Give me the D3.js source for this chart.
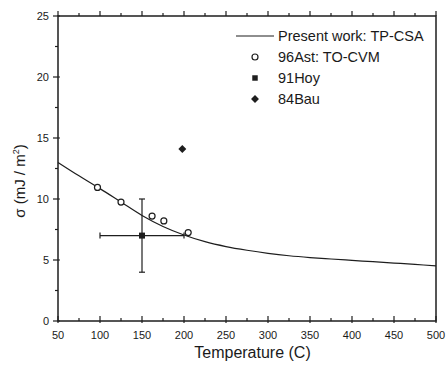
<!DOCTYPE html>
<html>
<head>
<meta charset="utf-8">
<script src="https://cdn.jsdelivr.net/npm/d3@7"></script>
<style>
  body { margin: 0; background: #fff; }
  text { font-family: "Liberation Sans", Arial, sans-serif; fill: #1a1a1a; }
</style>
</head>
<body>
<div id="chart"></div>
<script>
// curve: present work TP-CSA
var curveT = [50, 75, 100, 125, 150, 175, 200, 225, 250, 275, 300, 325, 350, 375, 400, 425, 450, 475, 500];
var curveS = [13.0, 11.9, 10.85, 9.75, 8.65, 7.75, 7.05, 6.5, 6.1, 5.8, 5.55, 5.35, 5.2, 5.08, 4.97, 4.86, 4.75, 4.64, 4.52];

// 96Ast: TO-CVM
var astT = [97, 125, 162, 176, 205];
var astS = [10.95, 9.75, 8.6, 8.2, 7.25];

// 91Hoy with error bars
var hoyT = [150];
var hoyS = [7.0];
var hoyTErr = [50];
var hoySErr = [3.0];

// 84Bau
var bauT = [198];
var bauS = [14.1];

var legendLabels = ["Present work: TP-CSA", "96Ast: TO-CVM", "91Hoy", "84Bau"];
var xTicks = [50, 100, 150, 200, 250, 300, 350, 400, 450, 500];
var yTicks = [0, 5, 10, 15, 20, 25];

var svgWidth = 446, svgHeight = 369;
var margin = {top: 16, right: 10, bottom: 48, left: 58};
var width = 436 - margin.left;
var height = 321 - margin.top;
var ink = "#1e1e1e";

var svg = d3.select("#chart").append("svg")
  .attr("width", svgWidth)
  .attr("height", svgHeight);

var g = svg.append("g")
  .attr("transform", `translate(${margin.left}, ${margin.top})`);

var x = d3.scaleLinear().domain([50, 500]).range([0, width]);
var y = d3.scaleLinear().domain([0, 25]).range([height, 0]);

// frame
g.append("rect")
  .attr("width", width).attr("height", height)
  .attr("fill", "none").attr("stroke", ink).attr("stroke-width", 1.5);

// ticks (major + minor) on all four sides
var xMinor = d3.range(75, 500, 50);
var yMinor = d3.range(2.5, 25, 5);

function tickMarks(vals, isX, len, pos) {
  g.selectAll(null).data(vals).enter().append("line")
    .attr("x1", d => isX ? x(d) : pos)
    .attr("x2", d => isX ? x(d) : pos - len)
    .attr("y1", d => isX ? pos : y(d))
    .attr("y2", d => isX ? pos + len : y(d))
    .attr("stroke", ink).attr("stroke-width", 1.2);
}
tickMarks(xTicks, true, -5, height);
tickMarks(xTicks, true, 2, height);
tickMarks(xMinor, true, -3, height);
tickMarks(xTicks, true, -5, 0);
tickMarks(xMinor, true, -3, 0);
tickMarks(yTicks, false, 5, 0);
tickMarks(yMinor, false, 3, 0);
tickMarks(yTicks, false, -2, 0);

// tick labels
g.selectAll(null).data(xTicks).enter().append("text")
  .attr("x", d => x(d)).attr("y", height + 18)
  .attr("text-anchor", "middle").attr("font-size", "11px")
  .text(d => d);

g.selectAll(null).data(yTicks).enter().append("text")
  .attr("x", -9).attr("y", d => y(d) + 4)
  .attr("text-anchor", "end").attr("font-size", "11px")
  .text(d => d);

// axis titles
g.append("text")
  .attr("x", 252.5 - margin.left).attr("y", 358 - margin.top)
  .attr("text-anchor", "middle").attr("font-size", "16px")
  .text("Temperature (C)");

g.append("text")
  .attr("transform", `translate(${25 - margin.left}, ${181 - margin.top}) rotate(-90)`)
  .attr("text-anchor", "middle").attr("font-size", "15px")
  .html("σ (mJ / m<tspan dy='-6' font-size='9px'>2</tspan><tspan dy='6'>)</tspan>");

// curve
var line = d3.line().x(d => x(d[0])).y(d => y(d[1])).curve(d3.curveCatmullRom);
g.append("path")
  .datum(d3.zip(curveT, curveS))
  .attr("d", line)
  .attr("fill", "none").attr("stroke", ink).attr("stroke-width", 1.2);

// error bars
hoyT.forEach(function(t, i) {
  var s = hoyS[i];
  g.append("line")
    .attr("x1", x(t - hoyTErr[i])).attr("x2", x(t + hoyTErr[i]))
    .attr("y1", y(s)).attr("y2", y(s))
    .attr("stroke", ink).attr("stroke-width", 1.2);
  g.append("line")
    .attr("x1", x(t)).attr("x2", x(t))
    .attr("y1", y(s - hoySErr[i])).attr("y2", y(s + hoySErr[i]))
    .attr("stroke", ink).attr("stroke-width", 1.2);
  [t - hoyTErr[i], t + hoyTErr[i]].forEach(function(e) {
    g.append("line").attr("x1", x(e)).attr("x2", x(e))
      .attr("y1", y(s) - 3).attr("y2", y(s) + 3)
      .attr("stroke", ink).attr("stroke-width", 1.2);
  });
  [s - hoySErr[i], s + hoySErr[i]].forEach(function(e) {
    g.append("line").attr("x1", x(t) - 3).attr("x2", x(t) + 3)
      .attr("y1", y(e)).attr("y2", y(e))
      .attr("stroke", ink).attr("stroke-width", 1.2);
  });
});

// open circles
g.selectAll(null).data(d3.zip(astT, astS)).enter().append("circle")
  .attr("cx", d => x(d[0])).attr("cy", d => y(d[1])).attr("r", 3)
  .attr("fill", "#fff").attr("stroke", ink).attr("stroke-width", 1.2);

// squares
g.selectAll(null).data(d3.zip(hoyT, hoyS)).enter().append("path")
  .attr("d", d3.symbol(d3.symbolSquare, 36))
  .attr("transform", d => `translate(${x(d[0])}, ${y(d[1])})`)
  .attr("fill", ink);

// diamonds
g.selectAll(null).data(d3.zip(bauT, bauS)).enter().append("path")
  .attr("d", d3.symbol(d3.symbolDiamond2, 40))
  .attr("transform", d => `translate(${x(d[0])}, ${y(d[1])})`)
  .attr("fill", ink);

// legend
var leg = svg.append("g").attr("transform", "translate(236, 36)");
leg.append("line").attr("x1", 0).attr("x2", 38).attr("y1", 0).attr("y2", 0)
  .attr("stroke", ink).attr("stroke-width", 1.2);
leg.append("circle").attr("cx", 19).attr("cy", 21).attr("r", 3)
  .attr("fill", "#fff").attr("stroke", ink).attr("stroke-width", 1.2);
leg.append("path").attr("d", d3.symbol(d3.symbolSquare, 30))
  .attr("transform", "translate(19, 42)").attr("fill", ink);
leg.append("path").attr("d", d3.symbol(d3.symbolDiamond2, 40))
  .attr("transform", "translate(19, 63)").attr("fill", ink);
leg.selectAll(null).data(legendLabels).enter().append("text")
  .attr("x", 42).attr("y", (d, i) => i * 21 + 5)
  .attr("font-size", "14.5px")
  .text(d => d);
</script>
</body>
</html>
